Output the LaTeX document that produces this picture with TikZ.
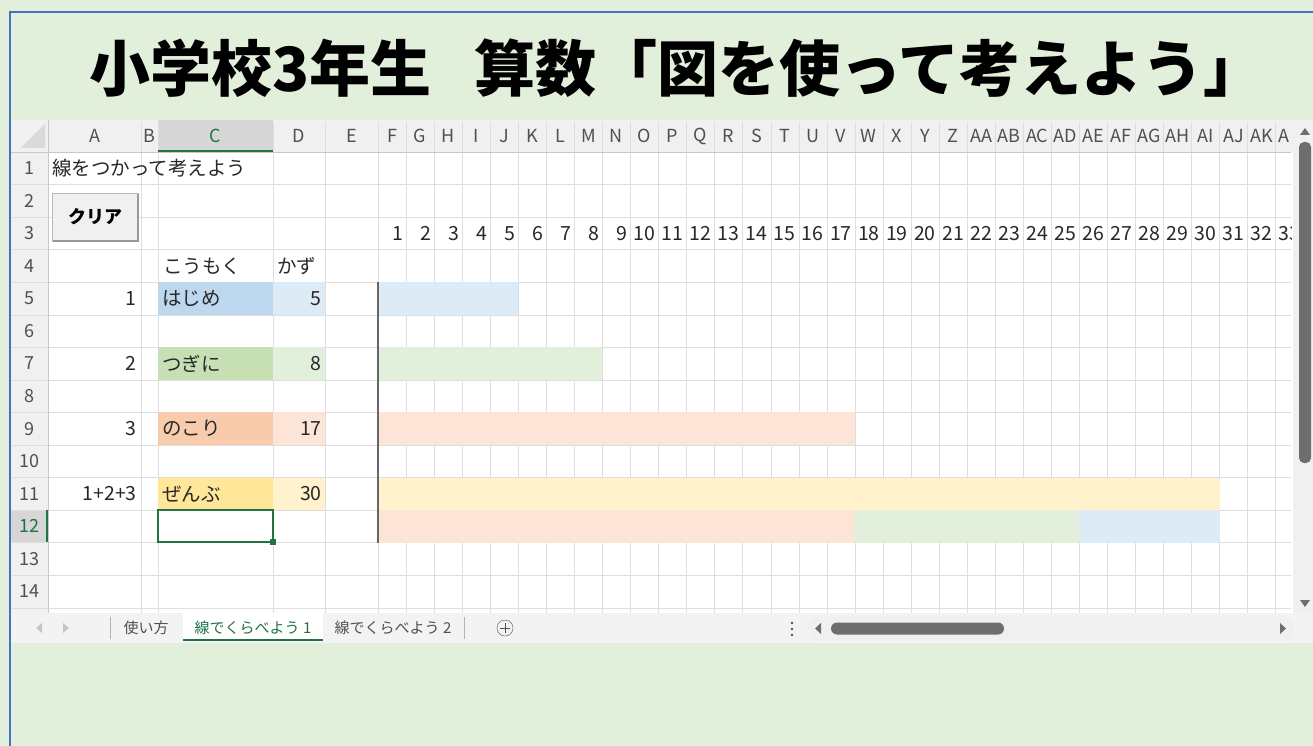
\documentclass[tikz,border=0pt]{standalone}
\usepackage{fontspec}
\setmainfont{Noto Sans CJK JP}
\usepackage{tikz}
\usetikzlibrary{calc}
\definecolor{sheetbg}{RGB}{226,239,218}
\definecolor{framebl}{RGB}{68,114,196}
\definecolor{headbg}{RGB}{240,240,240}
\definecolor{headsel}{RGB}{214,214,214}
\definecolor{gridln}{RGB}{222,222,222}
\definecolor{headln}{RGB}{200,200,200}
\definecolor{celltext}{RGB}{40,40,40}
\definecolor{headtext}{RGB}{80,80,80}
\definecolor{selgreen}{RGB}{33,115,70}
\definecolor{blueD}{RGB}{189,215,238}
\definecolor{blueL}{RGB}{221,235,247}
\definecolor{greenD}{RGB}{198,224,180}
\definecolor{greenL}{RGB}{226,239,218}
\definecolor{orangeD}{RGB}{248,203,173}
\definecolor{orangeL}{RGB}{252,228,214}
\definecolor{yellowD}{RGB}{255,230,153}
\definecolor{yellowL}{RGB}{255,242,204}
\definecolor{tabbg}{RGB}{243,243,243}
\definecolor{thumb}{RGB}{110,110,110}
\tikzstyle{cell} = [inner sep=0pt, text=celltext, font=\fontsize{19.5}{19.5}\selectfont]
\tikzstyle{colhead} = [inner sep=0pt, text=headtext, font=\fontsize{18}{18}\selectfont]
\tikzstyle{tabtext} = [inner sep=0pt, text=headtext, font=\fontsize{15}{15}\selectfont]
\tikzstyle{button} = [draw=gray!55, fill=headbg, rectangle, minimum width=86pt, minimum height=48pt, font=\fontsize{18}{18}\selectfont\bfseries]

\begin{document}
\begin{tikzpicture}[x=1pt,y=-1pt]
\useasboundingbox (0,0) rectangle (1313,746);
%% Hintergrund %%
\fill[sheetbg] (0,0) rectangle (1313,746);
\draw[framebl, line width=1.5pt] (10,746) -- (10,12) -- (1313,12);

%% Titel %%
\node[inner sep=0pt, font=\fontsize{61}{61}\selectfont\bfseries] (Title) at (677,68) {小学校3年生\hspace{43pt}算数「図を使って考えよう」};

%% Tabelle %%
\fill[white] (11,120) rectangle (1293,613);
\fill[headbg] (11,120) rectangle (1293,152);
\fill[headbg] (11,152) rectangle (48,613);
\fill[headsel] (158,120) rectangle (273,152);
\fill[headsel] (11,509.6) rectangle (48,542.2);
\fill[gray!30] (45,148) -- (45,124) -- (21,148) -- cycle;

\begin{scope}
\clip (11,120) rectangle (1291,613);
% Gitter
\foreach \gx in {141,158,273,325} {
  \draw[gridln] (\gx,152) -- (\gx,613);
  \draw[headln!60] (\gx,122) -- (\gx,152);
}
\foreach \i in {0,...,33} {
  \draw[gridln] ({378+28.05*\i},152) -- ({378+28.05*\i},613);
  \draw[headln!60] ({378+28.05*\i},122) -- ({378+28.05*\i},152);
}
\foreach \r in {1,...,14}
  \draw[gridln] (48,{152+32.55*\r}) -- (1292,{152+32.55*\r});
\foreach \r in {1,...,14}
  \draw[headln!60] (11,{152+32.55*\r}) -- (48,{152+32.55*\r});
\draw[headln] (11,152) -- (1292,152);
\draw[headln] (48,120) -- (48,613);

% Spaltenkoepfe
\node[colhead] (HeadA) at (94.5,136) {A};
\node[colhead] (HeadB) at (149.5,136) {B};
\node[colhead, text=selgreen] (HeadC) at (215.5,136) {C};
\node[colhead] (HeadD) at (299,136) {D};
\node[colhead] (HeadE) at (351.5,136) {E};
\foreach \lab [count=\i] in {F,G,H,I,J,K,L,M,N,O,P,Q,R,S,T,U,V,W,X,Y,Z,AA,AB,AC,AD,AE,AF,AG,AH,AI,AJ,AK}
  \node[colhead] (Head\lab) at ({378+28.05*(\i-0.5)},136) {\lab};
\node[colhead] (HeadAL) at (1284,136) {A};
\draw[selgreen, line width=2pt] (158,151) -- (273,151);

% Zeilenkoepfe
\foreach \r in {1,...,14}
  \node[colhead] (Row\r) at (29.5,{152+32.55*(\r-0.5)}) {\r};
\node[colhead, text=selgreen, fill=headsel] (RowSel) at (29.5,{152+32.55*11.5}) {12};
\draw[selgreen, line width=2pt] (47,509.6) -- (47,542.2);

% Zahlen Zeile 3
\foreach \i in {1,...,33}
  \node[cell, anchor=east] (Num\i) at ({378+28.05*\i-3},{152+32.55*2.5}) {\i};

%% Farbige Zellen %%
\fill[blueD] (158,{152+32.55*4}) rectangle (273,{152+32.55*5});
\fill[blueL] (273,{152+32.55*4}) rectangle (325,{152+32.55*5});
\fill[greenD] (158,{152+32.55*6}) rectangle (273,{152+32.55*7});
\fill[greenL] (273,{152+32.55*6}) rectangle (325,{152+32.55*7});
\fill[orangeD] (158,{152+32.55*8}) rectangle (273,{152+32.55*9});
\fill[orangeL] (273,{152+32.55*8}) rectangle (325,{152+32.55*9});
\fill[yellowD] (158,{152+32.55*10}) rectangle (273,{152+32.55*11});
\fill[yellowL] (273,{152+32.55*10}) rectangle (325,{152+32.55*11});

%% Balken %%
\fill[blueL] (378,{152+32.55*4}) rectangle ({378+28.05*5},{152+32.55*5});
\fill[greenL] (378,{152+32.55*6}) rectangle ({378+28.05*8},{152+32.55*7});
\fill[orangeL] (378,{152+32.55*8}) rectangle ({378+28.05*17},{152+32.55*9});
\fill[yellowL] (378,{152+32.55*10}) rectangle ({378+28.05*30},{152+32.55*11});
\fill[orangeL] (378,{152+32.55*11}) rectangle ({378+28.05*17},{152+32.55*12});
\fill[greenL] ({378+28.05*17},{152+32.55*11}) rectangle ({378+28.05*25},{152+32.55*12});
\fill[blueL] ({378+28.05*25},{152+32.55*11}) rectangle ({378+28.05*30},{152+32.55*12});
\draw[black!60, line width=1.5pt] (378,{152+32.55*4}) -- (378,{152+32.55*12});
\end{scope}

%% Texte %%
\node[cell, anchor=west] (Caption) at (52,{152+32.55*0.5}) {線をつかって考えよう};
\node[cell, anchor=west] (ItemHead) at (163,{152+32.55*3.5}) {こうもく};
\node[cell, anchor=west] (CountHead) at (277,{152+32.55*3.5}) {かず};

\node[cell, anchor=east] (NoOne) at (137,{152+32.55*4.5}) {1};
\node[cell, anchor=west] (Start) at (162,{152+32.55*4.5}) {はじめ};
\node[cell, anchor=east] (StartVal) at (322,{152+32.55*4.5}) {5};
\node[cell, anchor=east] (NoTwo) at (137,{152+32.55*6.5}) {2};
\node[cell, anchor=west] (Next) at (162,{152+32.55*6.5}) {つぎに};
\node[cell, anchor=east] (NextVal) at (322,{152+32.55*6.5}) {8};
\node[cell, anchor=east] (NoThree) at (137,{152+32.55*8.5}) {3};
\node[cell, anchor=west] (Rest) at (162,{152+32.55*8.5}) {のこり};
\node[cell, anchor=east] (RestVal) at (322,{152+32.55*8.5}) {17};
\node[cell, anchor=east] (NoSum) at (137,{152+32.55*10.5}) {1+2+3};
\node[cell, anchor=west] (Total) at (162,{152+32.55*10.5}) {ぜんぶ};
\node[cell, anchor=east] (TotalVal) at (322,{152+32.55*10.5}) {30};

%% Auswahl C12 %%
\draw[selgreen, line width=2pt] (158,509.6) rectangle (273,542.2);
\fill[selgreen] (270,539.2) rectangle (276,545.2);

%% Knopf %%
\node[button] (ClearBtn) at (95,217) {クリア};
\draw[gray!80, line width=1.5pt] ($(ClearBtn.south west)+(1,0)$) -- (ClearBtn.south east) -- ($(ClearBtn.north east)+(0,1)$);

%% Bildlaufleisten %%
\fill[headbg] (1293,120) rectangle (1313,613);
\fill[thumb, rounded corners=5pt] (1299,142) rectangle (1311,463);
\fill[thumb] (1300,135) -- (1310,135) -- (1305,128) -- cycle;
\fill[thumb] (1300,600) -- (1310,600) -- (1305,607) -- cycle;

\fill[tabbg] (11,613) rectangle (1313,643);
\fill[gray!45] (42,623) -- (42,633) -- (36,628) -- cycle;
\fill[gray!45] (63,623) -- (63,633) -- (69,628) -- cycle;
\draw[gray!60, line width=1pt] (110,617) -- (110,639);
\node[tabtext] (TabHelp) at (146,628) {使い方};
\fill[white] (183,613) rectangle (323,640);
\draw[selgreen, line width=1.5pt] (183,640) -- (323,640);
\node[tabtext, text=selgreen] (TabOne) at (253,628) {線でくらべよう 1};
\node[tabtext] (TabTwo) at (393,628) {線でくらべよう 2};
\draw[gray!60, line width=1pt] (464,617) -- (464,639);
\node[draw=headtext, circle, minimum size=16pt, inner sep=0pt] (AddTab) at (505,628) {};
\draw[headtext] ($(AddTab)+(-5,0)$) -- ($(AddTab)+(5,0)$);
\draw[headtext] ($(AddTab)+(0,-5)$) -- ($(AddTab)+(0,5)$);

\foreach \dy in {-6,0,6}
  \fill[headtext] (792,{629+\dy}) circle (1.4);
\fill[headbg, rounded corners=10pt] (808,616) rectangle (1294,641);
\fill[thumb] (821,623) -- (821,634) -- (815,628.5) -- cycle;
\fill[thumb, rounded corners=6pt] (831,622.5) rectangle (1004,634.5);
\fill[thumb] (1280,623) -- (1280,634) -- (1286,628.5) -- cycle;
\end{tikzpicture}
\end{document}
